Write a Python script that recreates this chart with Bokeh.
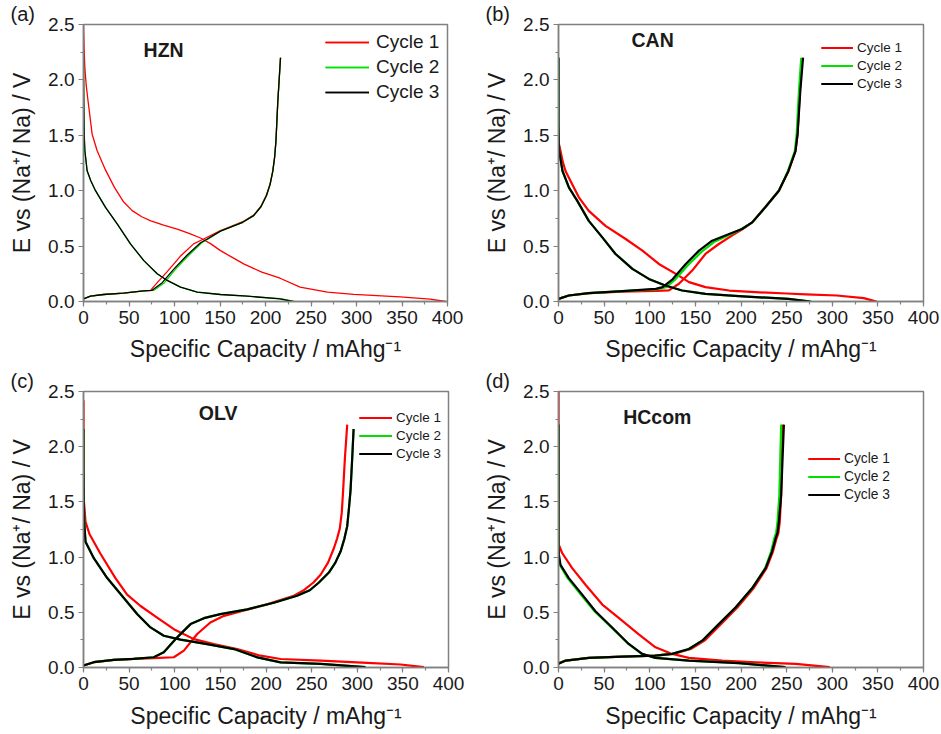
from bokeh.plotting import figure
from bokeh.models import (Range1d, SingleIntervalTicker, PrintfTickFormatter,
                          Label, Legend, LegendItem)
from bokeh.layouts import column, row
from bokeh.embed import file_html
from bokeh.resources import INLINE

# ---------------- data (specific capacity mAh/g, potential V) ----------------
cycle_labels = ["Cycle 1", "Cycle 2", "Cycle 3"]
x_ticks_step = 50
y_ticks_step = 0.5

# (a) HZN
hzn_c1_dis_x = [0, 0.6, 1.5, 3, 5, 9.5, 15, 24, 34, 44, 53.5, 64, 74, 88, 103, 116, 128.6, 140, 150.5, 163, 176, 196, 216, 238, 268, 297, 348, 381, 398]
hzn_c1_dis_y = [2.5, 2.3, 2.11, 1.95, 1.81, 1.51, 1.36, 1.19, 1.03, 0.9, 0.82, 0.765, 0.728, 0.69, 0.654, 0.615, 0.573, 0.52, 0.459, 0.4, 0.339, 0.265, 0.21, 0.13, 0.084, 0.065, 0.042, 0.022, 0.0]
hzn_c1_chg_x = [0, 7.7, 22, 44, 66, 73.6, 81, 92, 106.6, 121, 132, 150.5, 163, 175, 187, 195, 201, 205, 208, 210, 211.5, 213.5, 216.5]
hzn_c1_chg_y = [0.024, 0.048, 0.063, 0.075, 0.095, 0.1, 0.17, 0.27, 0.41, 0.52, 0.564, 0.639, 0.68, 0.72, 0.78, 0.86, 0.96, 1.06, 1.18, 1.3, 1.45, 1.8, 2.2]
hzn_c2_dis_x = [0, 0.1, 0.3, 0.8, 1.5, 4, 8, 13.2, 24.2, 37, 51.6, 66.3, 81, 92, 106.6, 125, 150.5, 180, 216, 232]
hzn_c2_dis_y = [2.2, 2.0, 1.8, 1.5, 1.36, 1.18, 1.09, 1.0, 0.85, 0.7, 0.52, 0.369, 0.25, 0.19, 0.13, 0.084, 0.063, 0.048, 0.026, 0.0]
hzn_c2_chg_x = [0, 7.7, 22, 44, 66, 77, 89, 101, 116, 130, 137, 150.5, 163, 175, 187, 195, 201, 205, 208, 210, 211.5, 213.5, 216.5]
hzn_c2_chg_y = [0.024, 0.048, 0.063, 0.075, 0.095, 0.1, 0.17, 0.29, 0.42, 0.53, 0.564, 0.635, 0.675, 0.715, 0.775, 0.855, 0.955, 1.055, 1.175, 1.3, 1.45, 1.8, 2.2]
hzn_c3_dis_x = [0, 0.1, 0.3, 0.8, 1.5, 4, 8, 13.2, 24.2, 37, 51.6, 66.3, 81, 92, 106.6, 125, 150.5, 180, 216, 230]
hzn_c3_dis_y = [2.2, 2.0, 1.8, 1.5, 1.36, 1.18, 1.09, 1.0, 0.85, 0.7, 0.52, 0.369, 0.25, 0.19, 0.13, 0.084, 0.063, 0.048, 0.024, 0.0]
hzn_c3_chg_x = [0, 7.7, 22, 44, 66, 75, 86.5, 99, 114, 128.6, 136, 150.5, 163, 175, 187, 195, 201, 205, 208, 210, 211.5, 213.5, 216.5]
hzn_c3_chg_y = [0.024, 0.048, 0.063, 0.075, 0.095, 0.1, 0.17, 0.29, 0.42, 0.53, 0.564, 0.635, 0.675, 0.715, 0.775, 0.855, 0.955, 1.055, 1.175, 1.3, 1.45, 1.8, 2.2]

# (b) CAN
can_c1_dis_x = [0, 0.5, 2.2, 4.7, 7.7, 13.2, 22.3, 33.2, 51.5, 73.6, 92, 110, 128.6, 143, 161, 187, 216, 250, 271, 305, 334.6, 348.5]
can_c1_dis_y = [1.5, 1.42, 1.358, 1.26, 1.178, 1.088, 0.94, 0.818, 0.683, 0.564, 0.459, 0.339, 0.249, 0.175, 0.13, 0.099, 0.084, 0.072, 0.065, 0.054, 0.03, 0.0]
can_c1_chg_x = [0, 11.3, 33.2, 70, 106.6, 121, 132, 146.5, 161, 175.7, 190, 201, 212.3, 226.6, 241.5, 252, 259.7, 262, 264.5, 267]
can_c1_chg_y = [0.024, 0.054, 0.075, 0.09, 0.095, 0.1, 0.16, 0.279, 0.429, 0.519, 0.594, 0.65, 0.714, 0.85, 1.0, 1.178, 1.358, 1.51, 1.9, 2.2]
can_c2_dis_x = [0, 0, 0.3, 0.7, 4.4, 11.5, 20.6, 33.2, 48, 62.5, 81, 99, 117, 135.5, 161, 197.6, 252, 277]
can_c2_dis_y = [2.2, 1.6, 1.45, 1.358, 1.178, 1.028, 0.908, 0.728, 0.579, 0.429, 0.294, 0.204, 0.144, 0.099, 0.069, 0.048, 0.024, 0.0]
can_c2_chg_x = [0, 11.3, 33.2, 70, 106.6, 118, 128, 142, 157, 171, 188, 201, 212.3, 226.6, 241.5, 251.5, 259, 261, 263.5, 266]
can_c2_chg_y = [0.024, 0.054, 0.075, 0.093, 0.11, 0.13, 0.2, 0.33, 0.45, 0.54, 0.605, 0.654, 0.714, 0.85, 1.0, 1.178, 1.358, 1.51, 1.9, 2.2]
can_c3_dis_x = [0, 0, 0.3, 0.7, 4.4, 11.5, 20.6, 33.2, 48, 62.5, 81, 99, 117, 135.5, 161, 197.6, 252, 276]
can_c3_dis_y = [2.2, 1.6, 1.45, 1.358, 1.178, 1.028, 0.908, 0.728, 0.579, 0.429, 0.294, 0.204, 0.144, 0.099, 0.069, 0.048, 0.024, 0.0]
can_c3_chg_x = [0, 11.3, 33.2, 70, 106.6, 114, 125, 139.5, 154, 168.4, 187, 201, 212.3, 226.6, 241.5, 252, 259.7, 262, 265, 268]
can_c3_chg_y = [0.024, 0.054, 0.075, 0.093, 0.114, 0.13, 0.2, 0.339, 0.459, 0.549, 0.609, 0.654, 0.714, 0.85, 1.0, 1.178, 1.358, 1.51, 1.9, 2.2]

# (c) OLV
olv_c1_dis_x = [0, 0, 0.5, 2.2, 6.5, 18.6, 35, 47.8, 62.5, 80.7, 99, 121, 142.8, 168.4, 194, 216, 260, 311, 347.6, 373]
olv_c1_dis_y = [2.42, 1.8, 1.5, 1.32, 1.21, 1.03, 0.81, 0.66, 0.557, 0.452, 0.347, 0.257, 0.212, 0.167, 0.107, 0.077, 0.062, 0.042, 0.027, 0.003]
olv_c1_chg_x = [0, 11.3, 33.2, 55, 77, 99, 110, 124.6, 139, 154, 172, 201, 230.5, 241.5, 252, 259.8, 268, 274.4, 278, 280.9, 283, 284.5, 286.5, 289]
olv_c1_chg_y = [0.018, 0.048, 0.069, 0.078, 0.085, 0.093, 0.153, 0.303, 0.408, 0.468, 0.507, 0.572, 0.65, 0.7, 0.77, 0.84, 0.95, 1.08, 1.17, 1.26, 1.4, 1.6, 1.9, 2.2]
olv_c2_dis_x = [0, 0, 0.3, 0.8, 2.2, 11.3, 26, 44.2, 59, 73.4, 88, 106.3, 135.5, 165, 190.6, 216, 260, 309]
olv_c2_dis_y = [2.16, 1.8, 1.5, 1.32, 1.14, 0.99, 0.81, 0.63, 0.483, 0.363, 0.288, 0.252, 0.212, 0.167, 0.092, 0.047, 0.032, 0.003]
olv_c2_chg_x = [0, 11.3, 33.2, 55, 77, 88, 102.7, 117.3, 132, 150, 179.5, 208.6, 234, 248, 258, 268.9, 276, 281.7, 286, 289, 291, 292.6, 294.5, 296]
olv_c2_chg_y = [0.018, 0.048, 0.069, 0.078, 0.093, 0.138, 0.273, 0.393, 0.447, 0.483, 0.527, 0.587, 0.65, 0.7, 0.77, 0.86, 0.95, 1.05, 1.17, 1.28, 1.45, 1.6, 1.9, 2.16]
olv_c3_dis_x = [0, 0, 0.3, 0.8, 2.2, 11.3, 26, 44.2, 59, 73.4, 88, 106.3, 135.5, 165, 190.6, 216, 260, 309]
olv_c3_dis_y = [2.16, 1.8, 1.5, 1.32, 1.14, 0.99, 0.81, 0.63, 0.483, 0.363, 0.288, 0.252, 0.212, 0.167, 0.092, 0.047, 0.032, 0.003]
olv_c3_chg_x = [0, 11.3, 33.2, 55, 77, 88, 102.7, 117.3, 132, 150, 179.5, 208.6, 234, 248, 258, 268.9, 276, 281.7, 286, 289, 291, 292.6, 294.5, 296]
olv_c3_chg_y = [0.018, 0.048, 0.069, 0.078, 0.093, 0.138, 0.273, 0.393, 0.447, 0.483, 0.527, 0.587, 0.65, 0.7, 0.77, 0.86, 0.95, 1.05, 1.17, 1.28, 1.45, 1.6, 1.9, 2.16]

# (d) HCcom
hc_c1_dis_x = [0, 0, 0, 0.4, 4, 15, 29.6, 48, 66, 88, 106.3, 124.6, 142.8, 179.4, 216, 260, 297.3]
hc_c1_dis_y = [2.5, 1.8, 1.2, 1.11, 1.037, 0.9, 0.75, 0.57, 0.45, 0.30, 0.183, 0.123, 0.087, 0.063, 0.047, 0.032, 0.003]
hc_c1_chg_x = [0, 8, 33.2, 70, 106, 126, 145, 160, 178, 196, 214, 228, 235, 239, 241, 242.5, 244, 245.5]
hc_c1_chg_y = [0.04, 0.063, 0.087, 0.099, 0.108, 0.123, 0.168, 0.243, 0.393, 0.543, 0.72, 0.9, 1.05, 1.17, 1.22, 1.32, 1.56, 2.2]
hc_c2_dis_x = [0, 0, 0, 0.3, 1.5, 10, 24.5, 39.5, 58, 76.5, 91.2, 106, 142.8, 197.6, 248]
hc_c2_dis_y = [2.2, 1.6, 1.05, 1.0, 0.93, 0.81, 0.66, 0.51, 0.363, 0.213, 0.123, 0.087, 0.063, 0.039, 0.003]
hc_c2_chg_x = [0, 8, 33.2, 70, 106, 124.6, 142.8, 157.5, 175.7, 194, 212.3, 226.5, 233, 236.5, 238.5, 240, 242, 244]
hc_c2_chg_y = [0.033, 0.063, 0.087, 0.099, 0.108, 0.123, 0.168, 0.243, 0.393, 0.543, 0.72, 0.9, 1.05, 1.17, 1.22, 1.32, 1.56, 2.2]
hc_c3_dis_x = [0, 0, 0, 0.5, 2.2, 11.3, 26, 40.5, 58.8, 77, 91.7, 106.3, 142.8, 197.6, 248.8]
hc_c3_dis_y = [2.2, 1.6, 1.1, 1.02, 0.93, 0.81, 0.66, 0.51, 0.363, 0.213, 0.123, 0.087, 0.063, 0.039, 0.003]
hc_c3_chg_x = [0, 8, 33.2, 70, 106, 124.6, 142.8, 157.5, 175.7, 194, 212.3, 227, 234, 238, 240, 241.5, 244, 247]
hc_c3_chg_y = [0.033, 0.063, 0.087, 0.099, 0.108, 0.123, 0.168, 0.243, 0.393, 0.543, 0.72, 0.9, 1.05, 1.17, 1.22, 1.32, 1.56, 2.2]

# ---------------- styling ----------------
FONT = "Liberation Sans"
COLORS = ["#ff0000", "#00e000", "#000000"]
AXIS_GRAY = "#808080"
TEXT = "#1a1a1a"


def make_panel(letter, name, cycles, width, height, borders, lw, name_pos, leg, xstand):
    left, right, top, bottom = borders
    p = figure(width=width, height=height, x_range=Range1d(0, 400), y_range=Range1d(0, 2.5),
               output_backend="svg", toolbar_location=None,
               min_border_left=left, min_border_right=right,
               min_border_top=top, min_border_bottom=bottom)
    p.background_fill_color = "white"
    p.border_fill_color = "white"
    p.outline_line_color = AXIS_GRAY
    p.outline_line_width = 1.5
    p.xgrid.visible = False
    p.ygrid.visible = False

    p.title.text = letter
    p.title.align = "left"
    p.title.offset = -73
    p.title.standoff = 0
    p.title.text_font = FONT
    p.title.text_font_size = "20px"
    p.title.text_font_style = "normal"
    p.title.text_color = TEXT
    p.title.vertical_align = "bottom"

    p.xaxis.ticker = SingleIntervalTicker(interval=x_ticks_step, num_minor_ticks=2)
    p.yaxis.ticker = SingleIntervalTicker(interval=y_ticks_step, num_minor_ticks=2)
    p.yaxis.formatter = PrintfTickFormatter(format="%.1f")
    p.xaxis.axis_label = "Specific Capacity / mAhg\u207b\u00b9"
    p.yaxis.axis_label = "E vs (Na\u207a/ Na) / V"
    for ax in (p.xaxis, p.yaxis):
        ax.axis_line_color = AXIS_GRAY
        ax.axis_line_width = 1.5
        ax.major_tick_line_color = AXIS_GRAY
        ax.minor_tick_line_color = AXIS_GRAY
        ax.major_tick_line_width = 1.2
        ax.minor_tick_line_width = 1.2
        ax.major_tick_in = 0
        ax.major_tick_out = 5
        ax.minor_tick_in = 0
        ax.minor_tick_out = 3
        ax.major_label_text_font = FONT
        ax.major_label_text_font_size = "19px"
        ax.major_label_text_color = TEXT
        ax.axis_label_text_font = FONT
        ax.axis_label_text_font_size = "23px"
        ax.axis_label_text_font_style = "normal"
        ax.axis_label_text_color = TEXT
    p.xaxis.major_label_standoff = 4
    p.yaxis.major_label_standoff = 4
    p.xaxis.axis_label_standoff = xstand
    p.yaxis.axis_label_standoff = 10

    items = []
    for i, (dx, dy, cx, cy) in enumerate(cycles):
        r1 = p.line(dx, dy, line_color=COLORS[i], line_width=lw, line_join="round")
        r2 = p.line(cx, cy, line_color=COLORS[i], line_width=lw, line_join="round")
        items.append(LegendItem(label=cycle_labels[i], renderers=[r1, r2]))

    legend = Legend(items=items, location=leg["loc"], padding=0, margin=0,
                    border_line_alpha=0, background_fill_alpha=0,
                    label_text_font=FONT, label_text_font_size=leg["fs"],
                    label_text_color=TEXT,
                    glyph_width=leg["gw"], glyph_height=leg["h"], label_height=leg["h"],
                    spacing=leg["sp"], label_standoff=leg["st"])
    p.add_layout(legend)

    p.add_layout(Label(x=name_pos[0], y=name_pos[1], text=name, text_font=FONT,
                       text_font_style="bold", text_font_size="19.5px", text_color=TEXT,
                       text_baseline="alphabetic", text_align="left"))
    return p


pa = make_panel("(a)", "HZN",
                [(hzn_c1_dis_x, hzn_c1_dis_y, hzn_c1_chg_x, hzn_c1_chg_y),
                 (hzn_c2_dis_x, hzn_c2_dis_y, hzn_c2_chg_x, hzn_c2_chg_y),
                 (hzn_c3_dis_x, hzn_c3_dis_y, hzn_c3_chg_x, hzn_c3_chg_y)],
                470, 367, (83, 23, 23, 66), 1.3, (66, 2.267),
                dict(loc=(242, 198), fs="19px", gw=44, h=22, sp=3, st=7), 9)
pb = make_panel("(b)", "CAN",
                [(can_c1_dis_x, can_c1_dis_y, can_c1_chg_x, can_c1_chg_y),
                 (can_c2_dis_x, can_c2_dis_y, can_c2_chg_x, can_c2_chg_y),
                 (can_c3_dis_x, can_c3_dis_y, can_c3_chg_x, can_c3_chg_y)],
                471, 367, (88, 18, 23, 66), 2.2, (80, 2.363),
                dict(loc=(263, 210), fs="13.5px", gw=32, h=15, sp=3, st=4), 9)
pc = make_panel("(c)", "OLV",
                [(olv_c1_dis_x, olv_c1_dis_y, olv_c1_chg_x, olv_c1_chg_y),
                 (olv_c2_dis_x, olv_c2_dis_y, olv_c2_chg_x, olv_c2_chg_y),
                 (olv_c3_dis_x, olv_c3_dis_y, olv_c3_chg_x, olv_c3_chg_y)],
                470, 367, (83, 22, 22, 67), 2.2, (126.4, 2.306),
                dict(loc=(276, 206), fs="13.5px", gw=33, h=15, sp=3, st=4), 10)
pd_ = make_panel("(d)", "HCcom",
                 [(hc_c1_dis_x, hc_c1_dis_y, hc_c1_chg_x, hc_c1_chg_y),
                  (hc_c2_dis_x, hc_c2_dis_y, hc_c2_chg_x, hc_c2_chg_y),
                  (hc_c3_dis_x, hc_c3_dis_y, hc_c3_chg_x, hc_c3_chg_y)],
                 471, 367, (88, 18, 22, 67), 2.2, (70.9, 2.273),
                 dict(loc=(250, 165), fs="13.8px", gw=32, h=15, sp=3, st=4), 10)

layout = column(row(pa, pb), row(pc, pd_))
open("out.html", "w").write(file_html(layout, INLINE))
